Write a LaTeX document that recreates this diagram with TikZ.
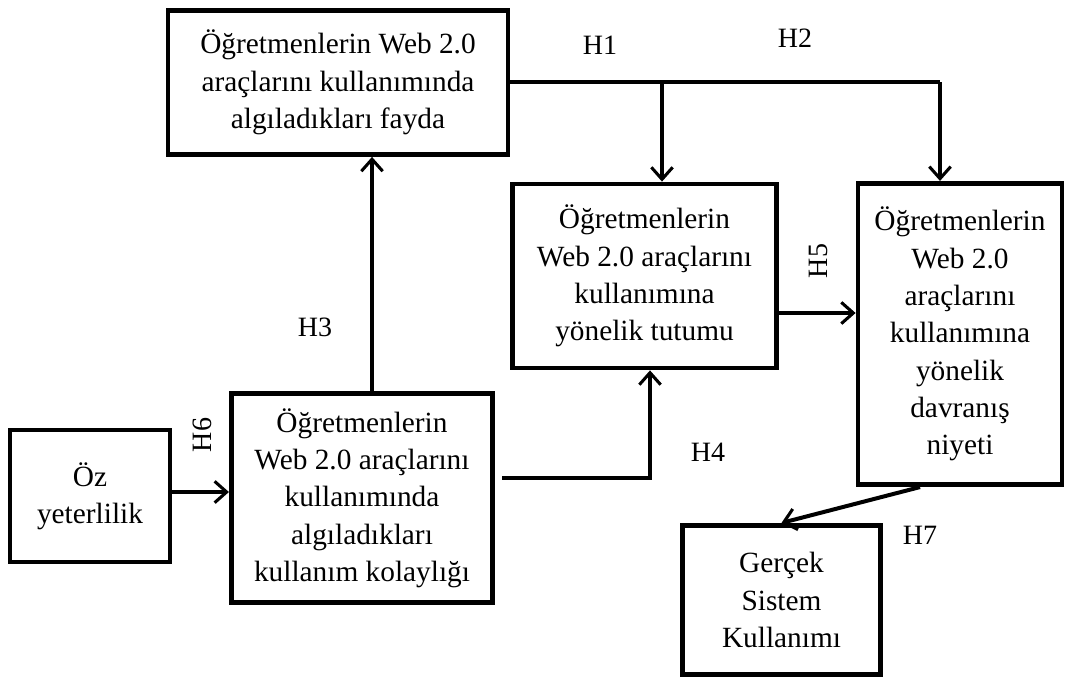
\documentclass[tikz,border=0pt]{standalone}
\usepackage{fontspec}
\setmainfont{Liberation Serif}
\usetikzlibrary{arrows.meta}

\tikzset{
    modelbox/.style={draw, line width=3.6pt, align=center, inner sep=0pt, font=\fontsize{22}{28}\selectfont},
    link/.style={line width=2.3pt, -{Straight Barb[length=9pt, width=16pt, line width=2.3pt]}},
    hlabel/.style={font=\fontsize{21}{24}\selectfont, inner sep=0pt}
}

\begin{document}
\begin{tikzpicture}[x=0.75pt, y=-0.75pt]
                \useasboundingbox (0,0) rectangle (1071,678);

                % Boxes
                \node[modelbox, minimum width=255pt, minimum height=108pt] (fayda) at (338,82.5)
                    {Öğretmenlerin Web 2.0\\ araçlarını kullanımında\\ algıladıkları fayda};
                \node[modelbox, minimum width=198pt, minimum height=138pt] (tutum) at (644.5,276)
                    {Öğretmenlerin\\ Web 2.0 araçlarını\\ kullanımına\\ yönelik tutumu};
                \node[modelbox, minimum width=153pt, minimum height=226pt] (niyet) at (960,334)
                    {Öğretmenlerin\\ Web 2.0\\ araçlarını\\ kullanımına\\ yönelik\\ davranış\\ niyeti};
                \node[modelbox, minimum width=120pt, minimum height=99pt] (oz) at (90,496)
                    {Öz\\ yeterlilik};
                \node[modelbox, minimum width=196pt, minimum height=157pt] (kolay) at (362,498)
                    {Öğretmenlerin\\ Web 2.0 araçlarını\\ kullanımında\\ algıladıkları\\ kullanım kolaylığı};
                \node[modelbox, minimum width=148pt, minimum height=112pt] (gercek) at (781.5,600)
                    {Gerçek\\ Sistem\\ Kullanımı};

                % Turning points
                \coordinate (h1top) at (662,82);
                \coordinate (h2top) at (940,82);
                \coordinate (h3) at (372,0);
                \coordinate (h4a) at (502,478);
                \coordinate (h4b) at (650,478);
                \coordinate (h5) at (0,313);
                \coordinate (h7a) at (920,0);

                % Arrows
                \draw[line width=2.3pt] (fayda.east |- h2top) -- (h2top);
                \draw[link] (h2top) -- (h2top |- niyet.north);
                \draw[link] (h1top) -- (h1top |- tutum.north);
                \draw[link] (kolay.north -| h3) -- (fayda.south -| h3);
                \draw[link, line width=3pt] (oz.east |- 0,492) -- (kolay.west |- 0,492);
                \draw[link] (h4a) -- (h4b) -- (h4b |- tutum.south);
                \draw[link] (tutum.east |- h5) -- (niyet.west |- h5);
                \draw[link, line width=3pt] (niyet.south -| h7a) -- (gercek.north);

                % Labels
                \node[hlabel] (l1) at (600,45) {H1};
                \node[hlabel] (l2) at (795,38) {H2};
                \node[hlabel] (l3) at (315,327) {H3};
                \node[hlabel] (l4) at (708,452) {H4};
                \node[hlabel, rotate=90] (l5) at (818,261) {H5};
                \node[hlabel, rotate=90] (l6) at (202,435) {H6};
                \node[hlabel] (l7) at (920,535) {H7};
            \end{tikzpicture}
\end{document}
